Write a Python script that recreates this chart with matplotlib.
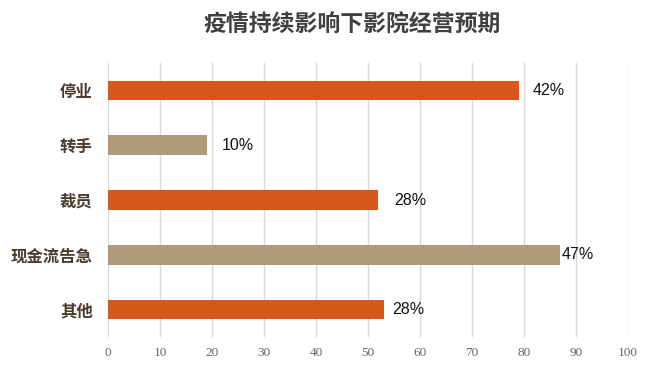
import matplotlib
matplotlib.use("Agg")
import matplotlib.pyplot as plt

plt.rcParams["font.family"] = ["Noto Sans CJK SC", "DejaVu Sans"]

categories = ["停业", "转手", "裁员", "现金流告急", "其他"]
bar_values = [79, 19, 52, 87, 53]
value_labels = ["42%", "10%", "28%", "47%", "28%"]
x_ticks = [0, 10, 20, 30, 40, 50, 60, 70, 80, 90, 100]

ORANGE = "#D6581B"
TAN = "#AF9A7C"
bar_colors = [ORANGE, TAN, ORANGE, TAN, ORANGE]
label_offsets = [14, 15, 16, 1, 9]  # pixels right of the bar end

fig = plt.figure(figsize=(6.53, 3.65), dpi=100)
ax = fig.add_axes([0.1654, 0.0767, 0.7963, 0.7507])

y = list(range(len(categories)))
ax.barh(y, bar_values, height=0.355, color=bar_colors, zorder=3)
for yi, v, lab, off in zip(y, bar_values, value_labels, label_offsets):
    ax.annotate(lab, (v, yi), xytext=(off * 0.72, 0), textcoords="offset points",
                ha="left", va="center", fontsize=11.5, color="#111111",
                family=["Liberation Sans", "DejaVu Sans"], zorder=4)

ax.set_xlim(0, 100)
ax.set_ylim(len(categories) - 0.5, -0.5)
ax.set_xticks(x_ticks)
ax.set_xticklabels([str(t) for t in x_ticks], family=["Liberation Serif"],
                   fontsize=9.5, color="#666666")
ax.set_yticks(y)
ax.set_yticklabels(categories, fontsize=11.8, fontweight="bold", color="#4a3b2c")
ax.tick_params(axis="y", length=0, pad=11)
ax.tick_params(axis="x", length=0, pad=7)
ax.grid(axis="x", color="#d9d9d9", linewidth=1, zorder=0)
for s in ax.spines.values():
    s.set_visible(False)

fig.text(0.54, 0.93, "疫情持续影响下影院经营预期", ha="center", va="center",
         fontsize=16.5, fontweight="bold", color="#404040")

fig.savefig("out.png", dpi=100)
